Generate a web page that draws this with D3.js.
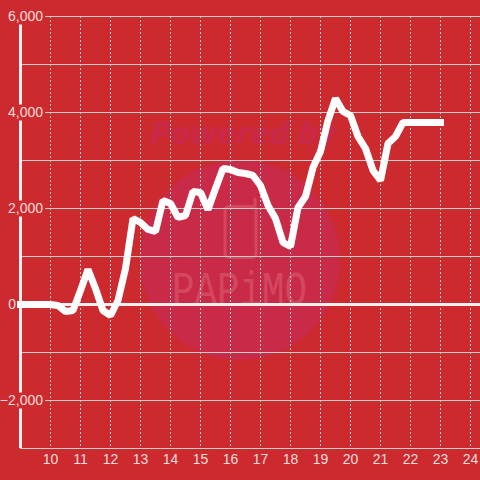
<!DOCTYPE html>
<html>
<head>
<meta charset="utf-8">
<script src="https://cdnjs.cloudflare.com/ajax/libs/d3/7.8.5/d3.min.js"></script>
<style>
html, body { margin: 0; padding: 0; background: #cc2a2e; }
svg { display: block; }
text { font-family: "Liberation Sans", Arial, sans-serif; }
</style>
</head>
<body>
<div id="chart"></div>
<script>
// Values, one point every 15 minutes
const times = [
    9, 9.25, 9.5, 9.75, 10, 10.25, 10.5, 10.75, 11, 11.25, 11.5, 11.75,
    12, 12.25, 12.5, 12.75, 13, 13.25, 13.5, 13.75, 14, 14.25, 14.5, 14.75,
    15, 15.25, 15.5, 15.75, 16, 16.25, 16.5, 16.75, 17, 17.25, 17.5, 17.75,
    18, 18.25, 18.5, 18.75, 19, 19.25, 19.5, 19.75, 20, 20.25, 20.5, 20.75,
    21, 21.25, 21.5, 21.75, 22, 22.25, 22.5, 22.75, 23
];
const values = [
    0, 0, 0, 0, 0, -20, -146, -125, 292, 729, 333, -125,
    -229, 83, 750, 1792, 1708, 1563, 1521, 2167, 2104, 1813, 1854, 2354,
    2333, 1979, 2417, 2833, 2813, 2750, 2729, 2688, 2479, 2063, 1792, 1292,
    1208, 2021, 2250, 2854, 3188, 3833, 4292, 4021, 3938, 3500, 3250, 2792,
    2583, 3354, 3500, 3792, 3792, 3792, 3792, 3792, 3792
];
const hourTicks = [10, 11, 12, 13, 14, 15, 16, 17, 18, 19, 20, 21, 22, 23, 24];
const valueGrid = [-3000, -2000, -1000, 0, 1000, 2000, 3000, 4000, 5000, 6000];
const valueLabels = [-2000, 0, 2000, 4000, 6000];

const width = 480;
const height = 480;
const bg = "#cc2a2e";
const gridColor = "#c6d0ca";
const labelColor = "#f6dcdc";
const logoColor = "#d4485f";

// d3.axis adds its own half pixel, so the ranges stay on whole pixels
const x = d3.scaleLinear().domain([9, 24]).range([20, 470]);
const y = d3.scaleLinear().domain([-3000, 6000]).range([448, 16]);

const svg = d3.select("#chart")
    .append("svg")
    .attr("width", width)
    .attr("height", height);

// Watermark behind the chart
const mark = svg.append("g");
mark.append("circle")
    .attr("cx", 240)
    .attr("cy", 260)
    .attr("r", 100)
    .attr("fill", "#c92a48");
mark.append("text")
    .attr("x", 150)
    .attr("y", 144)
    .attr("textLength", 186)
    .attr("lengthAdjust", "spacingAndGlyphs")
    .attr("font-size", 30)
    .attr("font-weight", "bold")
    .attr("font-style", "italic")
    .style("font-family", "Open Sans")
    .attr("fill", "#c9284a")
    .text("Powered by");
mark.append("rect")
    .attr("x", 225)
    .attr("y", 206.5)
    .attr("width", 31)
    .attr("height", 51)
    .attr("rx", 4)
    .attr("fill", "none")
    .attr("stroke", logoColor)
    .attr("stroke-width", 3);
mark.append("line")
    .attr("x1", 255)
    .attr("x2", 255)
    .attr("y1", 199)
    .attr("y2", 208)
    .attr("stroke", logoColor)
    .attr("stroke-width", 3)
    .attr("stroke-linecap", "round");
mark.append("text")
    .attr("x", 172)
    .attr("y", 305)
    .attr("textLength", 135)
    .attr("lengthAdjust", "spacingAndGlyphs")
    .attr("font-size", 48)
    .style("font-family", "Liberation Mono")
    .attr("fill", logoColor)
    .text("PAPiMO");

// Dashed hour grid and hour labels
const xAxis = svg.append("g")
    .attr("transform", "translate(0,448)")
    .call(d3.axisBottom(x).tickValues(hourTicks).tickSize(0).tickPadding(6));
xAxis.select(".domain").remove();
xAxis.selectAll(".tick text")
    .attr("font-size", 14)
    .attr("fill", labelColor)
    .style("font-family", "Liberation Sans");
xAxis.selectAll(".tick line")
    .attr("y1", -2)
    .attr("y2", -432)
    .attr("stroke", gridColor)
    .attr("stroke-dasharray", "2,2");

// Value grid
const yGrid = svg.append("g")
    .attr("transform", "translate(20,0)")
    .call(d3.axisLeft(y).tickValues(valueGrid).tickSize(-(width - 20)).tickFormat(""));
yGrid.select(".domain").remove();
yGrid.selectAll(".tick line").attr("stroke", gridColor);
yGrid.selectAll(".tick text").remove();

// Zero line and the y axis line
svg.append("line")
    .attr("x1", 20)
    .attr("x2", width)
    .attr("y1", y(0) + 0.5)
    .attr("y2", y(0) + 0.5)
    .attr("stroke", "#f5eeee")
    .attr("stroke-width", 3);
svg.append("line")
    .attr("x1", x(9) + 0.5)
    .attr("x2", x(9) + 0.5)
    .attr("y1", y(6000))
    .attr("y2", y(-3000))
    .attr("stroke", "#f0f0f0")
    .attr("stroke-width", 3);

// Value labels sit on a patch of background that breaks the axis line
const yAxis = svg.append("g")
    .attr("transform", "translate(43,0)")
    .call(d3.axisLeft(y).tickValues(valueLabels).tickSize(0).tickPadding(0)
        .tickFormat(d3.format(",")));
yAxis.select(".domain").remove();
yAxis.selectAll(".tick text")
    .attr("x", d => d === 0 ? -27 : 0)
    .attr("font-size", 14)
    .attr("fill", labelColor)
    .style("font-family", "Liberation Sans");
yAxis.selectAll(".tick").each(function () {
    const box = d3.select(this).select("text").node().getBBox();
    d3.select(this).insert("rect", "text")
        .attr("x", box.x - 1)
        .attr("y", -8)
        .attr("width", box.width + 3)
        .attr("height", 16)
        .attr("fill", bg);
});

// Series line
const line = d3.line()
    .x(d => x(d))
    .y((d, i) => y(values[i]));
svg.append("path")
    .datum(times)
    .attr("transform", "translate(0.5,0.5)")
    .attr("d", line)
    .attr("fill", "none")
    .attr("stroke", "#ffffff")
    .attr("stroke-width", 7)
    .attr("stroke-linecap", "square")
    .attr("stroke-linejoin", "bevel");
</script>
</body>
</html>
